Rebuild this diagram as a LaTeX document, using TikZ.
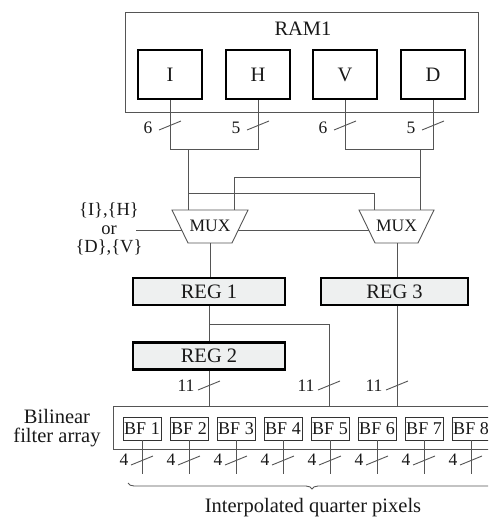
\documentclass[tikz,border=0pt]{standalone}
\usepackage{fontspec}
\setmainfont{Liberation Serif}
\usetikzlibrary{decorations.pathreplacing}
\definecolor{wirecol}{RGB}{85,85,85}
\definecolor{regfill}{RGB}{238,240,240}
\begin{document}
\begin{tikzpicture}[x=1pt,y=-1pt,
  every node/.style={font=\fontsize{20.5}{19}\selectfont, inner sep=0pt, text=black!90},
  small/.style={font=\fontsize{17.5}{19}\selectfont},
  wire/.style={draw=wirecol, line width=0.9pt},
  membox/.style={draw=black, line width=2.2pt, minimum width=64pt, minimum height=49pt},
  regbox/.style={draw=black, fill=regfill, line width=2.2pt, minimum height=27pt},
  bfbox/.style={draw=black!80, line width=0.9pt, minimum width=38pt, minimum height=23pt, font=\fontsize{18}{19}\selectfont},
  busslash/.pic={\draw[wire] (-11,4) -- (11,-5);}
]
\useasboundingbox (0,0) rectangle (488,520);
\clip (0,0) rectangle (488,520);

% RAM
\node[draw=wirecol, line width=0.9pt, minimum width=353pt, minimum height=100pt] (ram) at (301.5,62) {};
\node (ramlbl) at (303,29) {RAM1};
\node[membox] (I) at (170,74.5) {I};
\node[membox] (H) at (258,74.5) {H};
\node[membox] (V) at (345,74.5) {V};
\node[membox] (D) at (433,74.5) {D};

\coordinate (jL) at (188,149);
\coordinate (jR) at (420,149);
\draw[wire] (I.south) -- (I.south |- jL) -- (H.south |- jL) -- (H.south);
\draw[wire] (V.south) -- (V.south |- jR) -- (D.south |- jR) -- (D.south);
\pic at (170,126) {busslash};
\pic at (258,126) {busslash};
\pic at (345,126) {busslash};
\pic at (433,126) {busslash};
\node[small] (n6a) at (148,128) {6};
\node[small] (n5a) at (236,128) {5};
\node[small] (n6b) at (323,128) {6};
\node[small] (n5b) at (411,128) {5};

% MUXes
\draw[wire] (172,210) -- (248,210) -- (232,243) -- (188,243) -- cycle;
\node[small] (muxL) at (210,226) {MUX};
\draw[wire] (359,210) -- (434,210) -- (418,243) -- (375,243) -- cycle;
\node[small] (muxR) at (396.5,226) {MUX};

\coordinate (mLa) at (188,210);
\coordinate (mLb) at (234,210);
\coordinate (mRa) at (374,210);
\coordinate (mRb) at (420,210);
\coordinate (mLout) at (210,243);
\coordinate (mRout) at (397,243);
\coordinate (mLleft) at (182,230);
\coordinate (mLright) at (238,230);
\coordinate (mRleft) at (369,230);
\coordinate (sel) at (136,230);

\draw[wire] (jL) -- (mLa);
\draw[wire] (jR) -- (mRb);
\draw[wire] (jL |- 0,193) -- (mRa |- 0,193) -- (mRa);
\draw[wire] (jR |- 0,177) -- (mLb |- 0,177) -- (mLb);
\draw[wire] (sel) -- (mLleft);
\draw[wire] (mLright) -- (mRleft);

\node[align=center, font=\fontsize{18.5}{18.5}\selectfont] (sellbl) at (109,229.5) {\{I\},\{H\}\\or\\\{D\},\{V\}};

% Registers
\node[regbox, minimum width=152pt] (reg1) at (209,291.5) {REG 1};
\node[regbox, minimum width=147pt] (reg3) at (394.5,291.5) {REG 3};
\node[regbox, minimum width=152pt] (reg2) at (209,356) {REG 2};

\draw[wire] (mLout) -- (mLout |- reg1.north);
\draw[wire] (mRout) -- (mRout |- reg3.north);
\draw[wire] (reg1.south) -- (reg2.north);

% Filter array
\node[draw=wirecol, line width=0.9pt, minimum width=390pt, minimum height=43pt] (bfa) at (308,427.5) {};
\node[align=center] (bfalbl) at (57,428) {Bilinear\\filter array};

\coordinate (br) at (209,324);
\coordinate (c5) at (329,324);
\draw[wire] (reg2.south) -- (reg2.south |- bfa.north);
\draw[wire] (br) -- (c5) -- (c5 |- bfa.north);
\draw[wire] (mRout |- reg3.south) -- (mRout |- bfa.north);
\pic at (209,386) {busslash};
\pic at (329,386) {busslash};
\pic at (397,386) {busslash};
\node[small] (e1) at (186,386) {11};
\node[small] (e2) at (306,386) {11};
\node[small] (e3) at (374,386) {11};

\foreach \k/\x in {1/142,2/189,3/236,4/283,5/330,6/377,7/424,8/471} {
  \node[bfbox] (bf\k) at (\x,428.5) {BF \k};
  \coordinate (o\k) at (\x,474);
  \draw[wire] (bf\k.south) -- (o\k);
  \pic at (\x,461) {busslash};
  \node[small] (f\k) at (\x-18,460) {4};
}

\coordinate (brA) at (128,483);
\coordinate (brB) at (496,483);
\draw[wire, decorate, decoration={brace, mirror, amplitude=6pt}] (brA) -- (brB);
\node (out) at (313,508) {Interpolated quarter pixels};
\end{tikzpicture}
\end{document}
